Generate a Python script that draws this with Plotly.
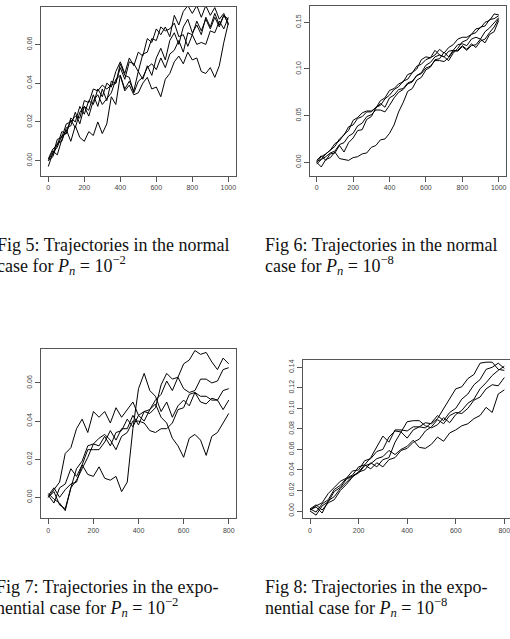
import plotly.graph_objects as go

# ---------------- data ----------------
steps_1000 = list(range(0, 1001, 25))
steps_800 = list(range(0, 801, 25))

# Fig 5: normal case, Pn = 1e-2
fig5_traj = [
    [0.000, 0.005, 0.003, 0.011, 0.016, 0.010, 0.018, 0.012, 0.010, 0.015, 0.013, 0.020, 0.014, 0.019, 0.033, 0.029, 0.044, 0.037, 0.041, 0.036, 0.046, 0.042, 0.049, 0.044, 0.053, 0.058, 0.052, 0.062, 0.066, 0.060, 0.069, 0.073, 0.066, 0.070, 0.065, 0.074, 0.069, 0.076, 0.070, 0.075, 0.071],
    [0.001, 0.006, 0.008, 0.015, 0.014, 0.022, 0.020, 0.028, 0.024, 0.031, 0.029, 0.037, 0.033, 0.040, 0.038, 0.046, 0.051, 0.045, 0.053, 0.049, 0.056, 0.054, 0.063, 0.061, 0.068, 0.065, 0.069, 0.064, 0.075, 0.070, 0.077, 0.080, 0.076, 0.080, 0.074, 0.080, 0.075, 0.079, 0.073, 0.076, 0.070],
    [-0.003, 0.004, 0.007, 0.013, 0.014, 0.021, 0.017, 0.025, 0.028, 0.023, 0.031, 0.034, 0.029, 0.032, 0.035, 0.042, 0.044, 0.036, 0.039, 0.034, 0.035, 0.040, 0.043, 0.037, 0.038, 0.033, 0.042, 0.045, 0.051, 0.054, 0.050, 0.056, 0.052, 0.053, 0.046, 0.045, 0.048, 0.043, 0.049, 0.061, 0.071],
    [0.000, 0.002, 0.009, 0.010, 0.017, 0.018, 0.025, 0.019, 0.028, 0.026, 0.034, 0.028, 0.037, 0.031, 0.041, 0.040, 0.048, 0.042, 0.051, 0.050, 0.046, 0.055, 0.056, 0.063, 0.062, 0.069, 0.067, 0.068, 0.071, 0.064, 0.065, 0.059, 0.065, 0.060, 0.061, 0.060, 0.067, 0.066, 0.072, 0.068, 0.074],
    [0.001, 0.003, 0.011, 0.012, 0.019, 0.020, 0.023, 0.022, 0.031, 0.030, 0.037, 0.036, 0.039, 0.037, 0.039, 0.040, 0.050, 0.044, 0.043, 0.035, 0.041, 0.043, 0.048, 0.050, 0.047, 0.053, 0.048, 0.055, 0.057, 0.062, 0.056, 0.066, 0.065, 0.072, 0.067, 0.073, 0.068, 0.074, 0.069, 0.075, 0.073],
]

# Fig 6: normal case, Pn = 1e-8
fig6_traj = [
    [0.000, -0.005, 0.003, 0.005, 0.011, 0.004, 0.003, 0.002, 0.005, 0.006, 0.009, 0.010, 0.016, 0.018, 0.024, 0.025, 0.031, 0.040, 0.054, 0.064, 0.076, 0.079, 0.088, 0.091, 0.099, 0.102, 0.110, 0.111, 0.118, 0.113, 0.120, 0.119, 0.124, 0.120, 0.125, 0.126, 0.132, 0.128, 0.137, 0.140, 0.152],
    [0.002, 0.007, 0.002, 0.009, 0.010, 0.018, 0.011, 0.021, 0.026, 0.034, 0.035, 0.046, 0.049, 0.058, 0.063, 0.059, 0.069, 0.072, 0.078, 0.079, 0.085, 0.087, 0.093, 0.096, 0.104, 0.107, 0.113, 0.115, 0.113, 0.119, 0.120, 0.126, 0.127, 0.125, 0.132, 0.134, 0.132, 0.140, 0.144, 0.150, 0.155],
    [0.000, 0.006, 0.009, 0.013, 0.017, 0.025, 0.029, 0.038, 0.040, 0.047, 0.049, 0.054, 0.054, 0.059, 0.061, 0.068, 0.072, 0.078, 0.081, 0.087, 0.089, 0.096, 0.100, 0.110, 0.113, 0.112, 0.115, 0.121, 0.117, 0.123, 0.126, 0.132, 0.134, 0.134, 0.137, 0.143, 0.144, 0.150, 0.152, 0.159, 0.158],
    [0.001, 0.003, 0.009, 0.013, 0.020, 0.023, 0.030, 0.034, 0.045, 0.048, 0.053, 0.055, 0.055, 0.058, 0.066, 0.069, 0.077, 0.079, 0.084, 0.086, 0.094, 0.096, 0.103, 0.105, 0.110, 0.112, 0.120, 0.115, 0.113, 0.109, 0.117, 0.122, 0.129, 0.131, 0.137, 0.139, 0.145, 0.146, 0.153, 0.154, 0.157],
    [-0.002, 0.003, 0.006, 0.010, 0.012, 0.019, 0.021, 0.028, 0.031, 0.039, 0.042, 0.049, 0.051, 0.056, 0.056, 0.054, 0.061, 0.069, 0.075, 0.078, 0.084, 0.086, 0.093, 0.095, 0.101, 0.103, 0.109, 0.109, 0.108, 0.112, 0.119, 0.120, 0.125, 0.121, 0.127, 0.123, 0.130, 0.132, 0.139, 0.145, 0.154],
]

# Fig 7: exponential case, Pn = 1e-2
fig7_traj = [
    [0.000, 0.004, 0.008, 0.023, 0.026, 0.036, 0.041, 0.034, 0.045, 0.042, 0.045, 0.039, 0.047, 0.042, 0.046, 0.050, 0.043, 0.040, 0.046, 0.049, 0.042, 0.039, 0.031, 0.027, 0.021, 0.031, 0.033, 0.030, 0.022, 0.032, 0.034, 0.039, 0.044],
    [0.001, -0.003, 0.005, 0.007, 0.015, 0.011, 0.017, 0.012, 0.011, 0.016, 0.010, 0.009, 0.011, 0.003, 0.008, 0.036, 0.057, 0.065, 0.056, 0.053, 0.045, 0.050, 0.042, 0.048, 0.051, 0.048, 0.055, 0.050, 0.049, 0.052, 0.051, 0.046, 0.051],
    [0.002, -0.001, -0.003, -0.007, 0.005, 0.009, 0.015, 0.021, 0.028, 0.027, 0.032, 0.027, 0.034, 0.035, 0.041, 0.037, 0.043, 0.045, 0.044, 0.047, 0.059, 0.065, 0.062, 0.063, 0.070, 0.072, 0.077, 0.075, 0.076, 0.071, 0.067, 0.073, 0.070],
    [0.000, 0.003, -0.004, -0.006, 0.005, 0.015, 0.019, 0.027, 0.028, 0.031, 0.033, 0.030, 0.025, 0.032, 0.034, 0.040, 0.040, 0.039, 0.035, 0.034, 0.036, 0.036, 0.039, 0.046, 0.047, 0.054, 0.055, 0.053, 0.053, 0.051, 0.051, 0.056, 0.057],
    [0.001, 0.005, 0.000, 0.004, 0.007, 0.008, 0.017, 0.025, 0.025, 0.025, 0.029, 0.035, 0.030, 0.036, 0.036, 0.043, 0.038, 0.045, 0.046, 0.051, 0.054, 0.061, 0.056, 0.063, 0.057, 0.055, 0.056, 0.062, 0.062, 0.060, 0.061, 0.067, 0.068],
]

# Fig 8: exponential case, Pn = 1e-8
fig8_traj = [
    [0.002, -0.001, 0.007, 0.011, 0.021, 0.025, 0.032, 0.035, 0.043, 0.045, 0.052, 0.062, 0.073, 0.067, 0.079, 0.079, 0.078, 0.082, 0.082, 0.086, 0.085, 0.090, 0.100, 0.109, 0.119, 0.121, 0.129, 0.133, 0.144, 0.145, 0.145, 0.138, 0.137],
    [0.001, 0.004, -0.002, 0.010, 0.014, 0.022, 0.028, 0.034, 0.037, 0.044, 0.046, 0.051, 0.053, 0.059, 0.055, 0.060, 0.063, 0.069, 0.062, 0.061, 0.065, 0.072, 0.068, 0.076, 0.079, 0.083, 0.085, 0.090, 0.093, 0.101, 0.096, 0.114, 0.118],
    [0.000, -0.004, 0.005, 0.009, 0.019, 0.023, 0.031, 0.034, 0.038, 0.040, 0.047, 0.043, 0.050, 0.052, 0.067, 0.077, 0.087, 0.088, 0.088, 0.083, 0.081, 0.084, 0.091, 0.086, 0.094, 0.098, 0.105, 0.109, 0.119, 0.125, 0.132, 0.137, 0.141],
    [0.002, 0.006, 0.001, 0.008, 0.011, 0.020, 0.026, 0.033, 0.038, 0.045, 0.041, 0.047, 0.043, 0.050, 0.052, 0.059, 0.061, 0.067, 0.070, 0.078, 0.082, 0.089, 0.085, 0.093, 0.096, 0.095, 0.100, 0.108, 0.111, 0.119, 0.123, 0.122, 0.130],
    [0.001, 0.005, 0.008, 0.017, 0.023, 0.029, 0.032, 0.039, 0.040, 0.049, 0.051, 0.058, 0.060, 0.072, 0.078, 0.077, 0.071, 0.079, 0.082, 0.081, 0.086, 0.093, 0.088, 0.096, 0.100, 0.109, 0.114, 0.123, 0.128, 0.138, 0.140, 0.144, 0.139],
]

x_ticks_1000 = [0, 200, 400, 600, 800, 1000]
x_ticks_800 = [0, 200, 400, 600, 800]
y_ticks_5 = [0.00, 0.02, 0.04, 0.06]
y_ticks_6 = [0.00, 0.05, 0.10, 0.15]
y_ticks_7 = [0.00, 0.02, 0.04, 0.06]
y_ticks_8 = [0.00, 0.02, 0.04, 0.06, 0.08, 0.10, 0.12, 0.14]

captions = [
    ("Fig 5: Trajectories in the normal", "case for <i>P</i><sub><i>n</i></sub> = 10<sup>−2</sup>"),
    ("Fig 6: Trajectories in the normal", "case for <i>P</i><sub><i>n</i></sub> = 10<sup>−8</sup>"),
    ("Fig 7: Trajectories in the expo-", "nential case for <i>P</i><sub><i>n</i></sub> = 10<sup>−2</sup>"),
    ("Fig 8: Trajectories in the expo-", "nential case for <i>P</i><sub><i>n</i></sub> = 10<sup>−8</sup>"),
]

# ---------------- figure ----------------
W, H = 510, 639
fig = go.Figure()

panels = [
    (steps_1000, fig5_traj, "x", "y"),
    (steps_1000, fig6_traj, "x2", "y2"),
    (steps_800, fig7_traj, "x3", "y3"),
    (steps_800, fig8_traj, "x4", "y4"),
]
for xs, trajs, xa, ya in panels:
    for tr in trajs:
        fig.add_trace(go.Scatter(x=xs, y=tr, mode="lines", xaxis=xa, yaxis=ya,
                                 line=dict(color="black", width=1), showlegend=False,
                                 hoverinfo="skip"))

def px(v):
    return v / W

def py(v):
    return 1 - v / H

tickfont = dict(family="Liberation Sans, Arial, sans-serif", size=7, color="#444")
common = dict(showgrid=False, zeroline=False, showline=True, linecolor="#555", linewidth=1,
              ticks="outside", ticklen=5, tickwidth=1, tickcolor="#555", tickfont=tickfont,
              ticklabeloverflow="allow")

def xax(domain, rng, tv, anchor, mirror=True):
    return dict(common, domain=domain, range=rng, tickvals=tv, ticktext=[str(t) for t in tv],
                anchor=anchor, mirror=mirror)

def yax(domain, rng, tv, anchor, mirror=True):
    return dict(common, domain=domain, range=rng, tickvals=tv,
                ticktext=["%.2f" % t for t in tv], tickangle=-90, anchor=anchor, mirror=mirror)

fig.update_layout(
    width=W, height=H, autosize=False,
    margin=dict(l=0, r=0, t=0, b=0),
    paper_bgcolor="white", plot_bgcolor="white",
    xaxis=xax([px(41), px(236)], [-40.6, 1042.8], x_ticks_1000, "y"),
    yaxis=yax([py(176), py(7)], [-0.0079, 0.0793], y_ticks_5, "x"),
    xaxis2=xax([px(310), px(505.7)], [-36.8, 1038.5], x_ticks_1000, "y2"),
    yaxis2=yax([py(176), py(6)], [-0.0147, 0.1675], y_ticks_6, "x2"),
    xaxis3=xax([px(41), px(236)], [-32.4, 832.2], x_ticks_800, "y3"),
    yaxis3=yax([py(518.3), py(349)], [-0.0110, 0.0778], y_ticks_7, "x3"),
    xaxis4=xax([px(302.5), 1.0], [-30.9, 823.4], x_ticks_800, "y4"),
    yaxis4=yax([py(518.3), py(359.7)], [-0.0071, 0.1474], y_ticks_8, "x4", mirror=False),
)

cap_font = dict(family="Liberation Serif, Times New Roman, serif", size=18, color="#111")
cap_pos = [(-4, 250, 270), (264.3, 250, 270), (-5, 592, 612), (264.3, 592, 612)]
for (l1, l2), (x0, b1, b2) in zip(captions, cap_pos):
    for txt, base in ((l1, b1), (l2, b2)):
        fig.add_annotation(text=txt, xref="paper", yref="paper", x=px(x0), y=py(base - 5),
                           xanchor="left", yanchor="middle", showarrow=False, font=cap_font,
                           borderpad=0)

fig.write_html("out.html")
